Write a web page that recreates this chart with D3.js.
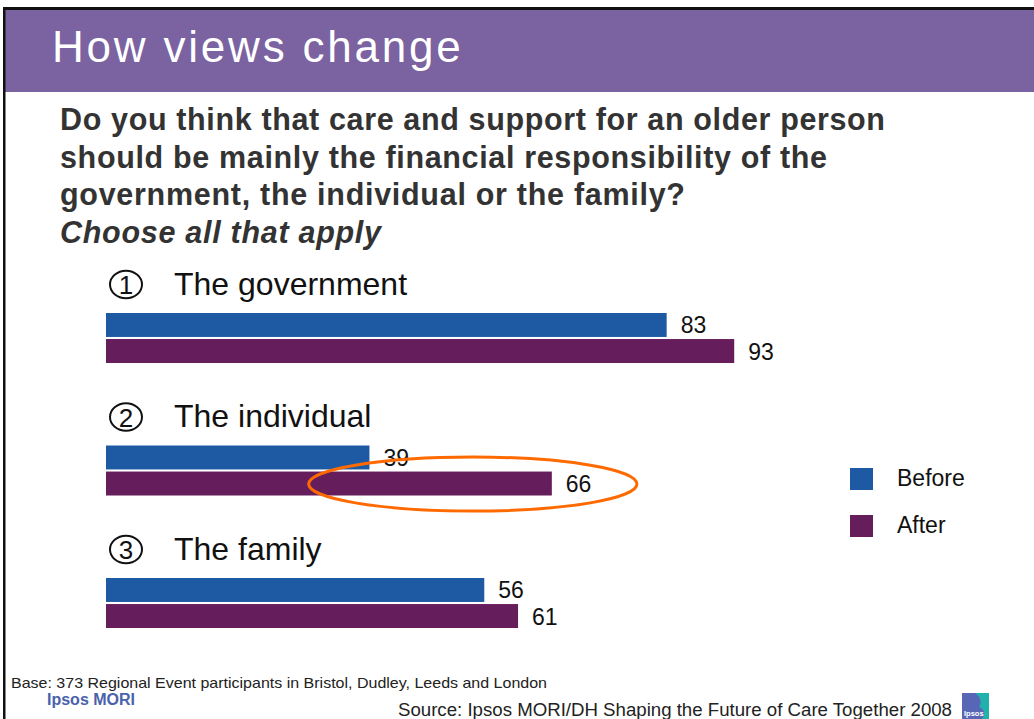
<!DOCTYPE html>
<html>
<head>
<meta charset="utf-8">
<script src="https://cdn.jsdelivr.net/npm/d3@7/dist/d3.min.js"></script>
<style>
  html, body { margin: 0; padding: 0; background: #ffffff; }
  svg { display: block; }
  text { font-family: "Liberation Sans", Arial, sans-serif; }
</style>
</head>
<body>
<svg id="chart" width="1034" height="719"></svg>
<script>
// Survey responses (% choosing each option)
const categories = ["The government", "The individual", "The family"];
const categoryNumbers = ["1", "2", "3"];
const series = ["Before", "After"];
const beforeValues = [83, 39, 56];
const afterValues = [93, 66, 61];

const titleText = "How views change";
const questionLines = [
  "Do you think that care and support for an older person",
  "should be mainly the financial responsibility of the",
  "government, the individual or the family?"
];
const questionWidths = [825, 767, 625];
const questionNote = "Choose all that apply";
const baseNote = "Base: 373 Regional Event participants in Bristol, Dudley, Leeds and London";
const sourceNote = "Source: Ipsos MORI/DH Shaping the Future of Care Together 2008";

const colors = { Before: "#1e5aa4", After: "#661d5c" };

const svg = d3.select("#chart");

// Slide frame and header band
svg.append("rect").attr("x", 0).attr("y", 0).attr("width", 1034).attr("height", 719).attr("fill", "#fff");
svg.append("rect").attr("x", 5).attr("y", 10).attr("width", 1029).attr("height", 82).attr("fill", "#7b62a0");
svg.append("rect").attr("x", 3).attr("y", 7).attr("width", 1031).attr("height", 3).attr("fill", "#111");
svg.append("rect").attr("x", 3).attr("y", 7).attr("width", 2.5).attr("height", 712).attr("fill", "#111");

svg.append("text")
  .attr("x", 52).attr("y", 62)
  .attr("fill", "#ffffff")
  .attr("font-size", 44)
  .attr("letter-spacing", 2.8)
  .text(titleText);

// Question text
const q = svg.append("g").attr("fill", "#333333").attr("font-weight", "bold").attr("font-size", 30.5);
q.selectAll("text.line").data(questionLines).join("text")
  .attr("class", "line")
  .attr("x", 60)
  .attr("y", (d, i) => 130 + i * 37.5)
  .attr("textLength", (d, i) => questionWidths[i])
  .attr("lengthAdjust", "spacing")
  .text(d => d);
q.append("text")
  .attr("x", 60).attr("y", 130 + 3 * 37.5)
  .attr("font-style", "italic")
  .attr("textLength", 321)
  .attr("lengthAdjust", "spacing")
  .text(questionNote);

// Scales
const x = d3.scaleLinear().domain([0, 100]).range([106, 781.5]);
const y = d3.scaleBand().domain(categories).range([313, 313 + 3 * 132.5]);
const yInner = d3.scaleBand().domain(series).range([0, 50]).paddingInner(0.08);

const rows = categories.map((c, i) => ({
  category: c,
  num: categoryNumbers[i],
  values: [
    { series: "Before", value: beforeValues[i] },
    { series: "After", value: afterValues[i] }
  ]
}));

const groups = svg.selectAll("g.group").data(rows).join("g")
  .attr("class", "group")
  .attr("transform", d => `translate(0,${y(d.category)})`);

// Category headings: circled number and label
groups.append("ellipse")
  .attr("cx", 126).attr("cy", -28.5)
  .attr("rx", 16).attr("ry", 13.8)
  .attr("fill", "none").attr("stroke", "#111").attr("stroke-width", 2);
groups.append("text")
  .attr("x", 126).attr("y", -19)
  .attr("text-anchor", "middle")
  .attr("font-size", 26)
  .attr("font-weight", 300)
  .attr("fill", "#111")
  .text(d => d.num);
groups.append("text")
  .attr("x", 174).attr("y", -18.5)
  .attr("font-size", 32)
  .attr("fill", "#111")
  .text(d => d.category);

// Bars
groups.selectAll("rect.bar").data(d => d.values).join("rect")
  .attr("class", "bar")
  .attr("x", x(0))
  .attr("y", d => yInner(d.series))
  .attr("width", d => x(d.value) - x(0))
  .attr("height", yInner.bandwidth())
  .attr("fill", d => colors[d.series]);

// Value labels
groups.selectAll("text.value").data(d => d.values).join("text")
  .attr("class", "value")
  .attr("x", d => x(d.value) + 14)
  .attr("y", d => yInner(d.series) + yInner.bandwidth() / 2 + 8.5)
  .attr("font-size", 23)
  .attr("fill", "#111")
  .text(d => d.value);

// Highlight around the shift for "The individual" after the event
const hlRange = [30, 78.6];
const hlCy = y("The individual") + yInner("After") + yInner.bandwidth() / 2;
svg.append("ellipse")
  .attr("cx", (x(hlRange[0]) + x(hlRange[1])) / 2)
  .attr("cy", hlCy + 0.5)
  .attr("rx", (x(hlRange[1]) - x(hlRange[0])) / 2)
  .attr("ry", 27)
  .attr("fill", "none")
  .attr("stroke", "#ff6a00")
  .attr("stroke-width", 3);

// Legend
const legend = svg.append("g").attr("transform", "translate(850,468)");
const li = legend.selectAll("g").data(series).join("g")
  .attr("transform", (d, i) => `translate(0,${i * 47})`);
li.append("rect").attr("width", 23).attr("height", 22).attr("fill", d => colors[d]);
li.append("text").attr("x", 47).attr("y", 18).attr("font-size", 23).attr("fill", "#111").text(d => d);

// Footer
svg.append("text").attr("x", 11).attr("y", 688).attr("font-size", 14.5).attr("fill", "#222")
  .attr("textLength", 536).attr("lengthAdjust", "spacingAndGlyphs").text(baseNote);
svg.append("text").attr("x", 47).attr("y", 705)
  .attr("font-family", "'Open Sans', 'Noto Sans', sans-serif")
  .attr("font-weight", "bold").attr("font-size", 16).attr("fill", "#4a62ac")
  .text("Ipsos MORI");
svg.append("text").attr("x", 398).attr("y", 716).attr("font-size", 17.5).attr("fill", "#222")
  .attr("textLength", 554).attr("lengthAdjust", "spacingAndGlyphs").text(sourceNote);

// Small brand logo
const logo = svg.append("g").attr("transform", "translate(962,693)");
logo.append("rect").attr("width", 27).attr("height", 26).attr("fill", "#5867b5");
logo.append("path").attr("d", "M13,0 H27 V26 H20 C24,20 22,16 17,14 C20,10 19,4 13,0 Z").attr("fill", "#21b1ad");
logo.append("text").attr("x", 2).attr("y", 23).attr("font-size", 7.5).attr("font-weight", "bold").attr("fill", "#fff").text("Ipsos");
</script>
</body>
</html>
